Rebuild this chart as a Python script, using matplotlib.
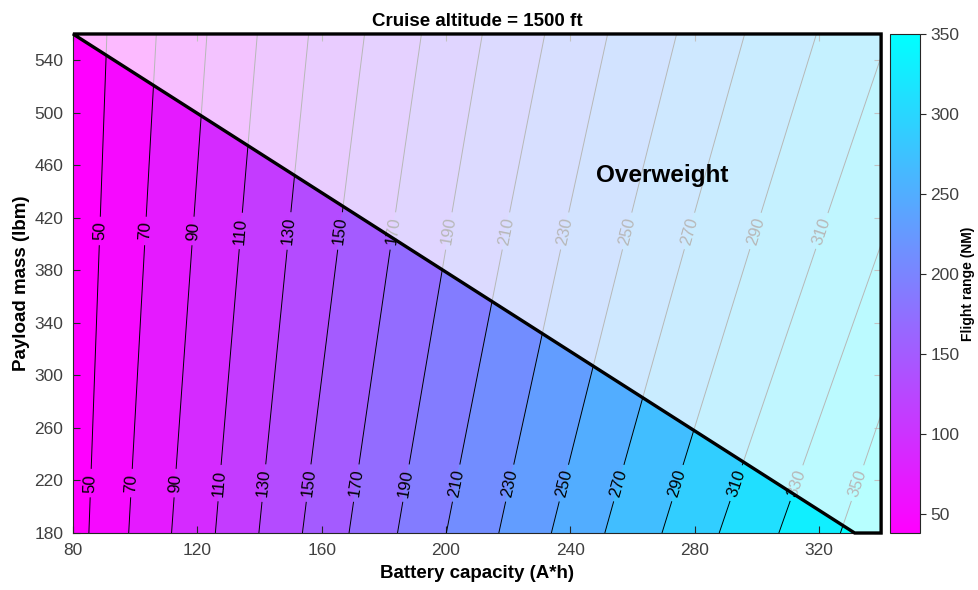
import numpy as np
import matplotlib
matplotlib.use('Agg')
import matplotlib.pyplot as plt
from matplotlib import colors as mcolors
from matplotlib.cm import ScalarMappable
from matplotlib.patches import Polygon

plt.rcParams['font.family'] = ['Liberation Sans', 'DejaVu Sans']

# уровни дальности (NM); 30 и 370 - только для краев поля, линии не рисуются
levels = [30, 50, 70, 90, 110, 130, 150, 170, 190, 210, 230, 250, 270, 290, 310, 330, 350, 370]
# емкость батареи (A*h), где проходит изолиния, при нагрузке 180 и 560 lbm
cap_at_180 = [72.3, 85.1, 97.9, 111.7, 125.8, 139.8, 153.8, 168.8, 184.4, 200.1,
              217.0, 233.9, 251.1, 269.5, 287.9, 307.1, 326.9, 347.0]
cap_at_560 = [75.0, 90.9, 106.8, 123.1, 139.3, 155.8, 173.8, 192.1, 211.7, 231.8,
              252.0, 274.2, 296.1, 319.2, 342.5, 364.0, 382.0, 402.0]

line_levels = [50, 70, 90, 110, 130, 150, 170, 190, 210, 230, 250, 270, 290, 310, 330, 350]
top_row_levels = [50, 70, 90, 110, 130, 150, 170, 190, 210, 230, 250, 270, 290, 310]
bottom_row_levels = line_levels

# граница перегруза
limit_cap = [80, 331.5]
limit_payload = [560, 180]

cbar_min, cbar_max = 38, 350
cbar_ticks = [50, 100, 150, 200, 250, 300, 350]

x_lo, x_hi = 80, 340
y_lo, y_hi = 180, 560

# поле дальности из положений изолиний
C = np.linspace(x_lo, x_hi, 500)
P = np.linspace(y_lo, y_hi, 300)
CC, PP = np.meshgrid(C, P)
c180 = np.array(cap_at_180)
c560 = np.array(cap_at_560)


def line_pos(p):
    t = (p - 180) / (560 - 180)
    return c180 + t * (c560 - c180)


Z = np.empty_like(CC)
for i, p in enumerate(P):
    Z[i] = np.interp(C, line_pos(p), levels)

fig = plt.figure(figsize=(9.79, 5.9), dpi=100)
ax = fig.add_axes([0.0746, 0.0966, 0.8254, 0.8458])
cax = fig.add_axes([0.909, 0.0966, 0.0306, 0.8458])

cmap = plt.get_cmap('cool_r')
norm = mcolors.Normalize(cbar_min, cbar_max)
fill_levels = [0] + line_levels + [1000]
fill_colors = [cmap(norm(v)) for v in [cbar_min] + line_levels]

ax.contourf(CC, PP, Z, levels=fill_levels, colors=fill_colors, zorder=1)
ax.set_xlim(x_lo, x_hi)
ax.set_ylim(y_lo, y_hi)
cs = ax.contour(CC, PP, Z, levels=line_levels, colors='k', linewidths=0.7, zorder=2)

# подписи изолиний в два ряда
manual = []
lv = np.array(levels)
for L in top_row_levels:
    manual.append((float(np.interp(L, lv, line_pos(410))), 410))
for L in bottom_row_levels:
    manual.append((float(np.interp(L, lv, line_pos(218))), 218))
ax.clabel(cs, fmt='%d', fontsize=12, inline=True, inline_spacing=5, manual=manual)

# область перегруза: белая полупрозрачная заливка и жирная рамка
over = [(limit_cap[0], limit_payload[0]), (x_hi, y_hi), (x_hi, y_lo),
        (limit_cap[1], limit_payload[1])]
ax.add_patch(Polygon(over, closed=True, facecolor='white', alpha=0.72,
                     edgecolor='none', zorder=4))
ax.add_patch(Polygon(over, closed=True, fill=False, edgecolor='black',
                     linewidth=2.4, joinstyle='miter', zorder=5, clip_on=False))
ax.text(269.7, 452.4, 'Overweight', fontsize=17.5, fontweight='bold',
        ha='center', va='center', zorder=6)

ax.set_xticks(range(80, 340, 40))
ax.set_yticks(range(180, 560, 40))
ax.tick_params(direction='in', top=True, right=True, length=5, width=0.8,
               labelsize=12.5, labelcolor='0.25', color='0.15')
ax.tick_params(axis='x', pad=7)
ax.tick_params(axis='y', pad=7)
for s in ax.spines.values():
    s.set_color('0.15')
    s.set_linewidth(0.8)
ax.set_title('Cruise altitude = 1500 ft', fontsize=13.5, fontweight='bold', pad=6)
ax.set_xlabel('Battery capacity (A*h)', fontsize=13.5, fontweight='bold', labelpad=5)
ax.set_ylabel('Payload mass (lbm)', fontsize=13.5, fontweight='bold', labelpad=3)

cb = fig.colorbar(ScalarMappable(norm=norm, cmap=cmap), cax=cax)
cb.set_ticks(cbar_ticks)
cb.ax.tick_params(labelsize=12.5, labelcolor='0.25', color='0.15', length=4)
cb.outline.set_edgecolor('0.15')
cb.outline.set_linewidth(0.8)
cb.set_label('Flight range (NM)', fontsize=10, fontweight='bold')
cb.ax.yaxis.set_label_coords(2.6, 0.5)
cb.ax.yaxis.label.set_verticalalignment('center')
cb.ax.yaxis.label.set_horizontalalignment('center')

fig.savefig('out.png', dpi=100)
